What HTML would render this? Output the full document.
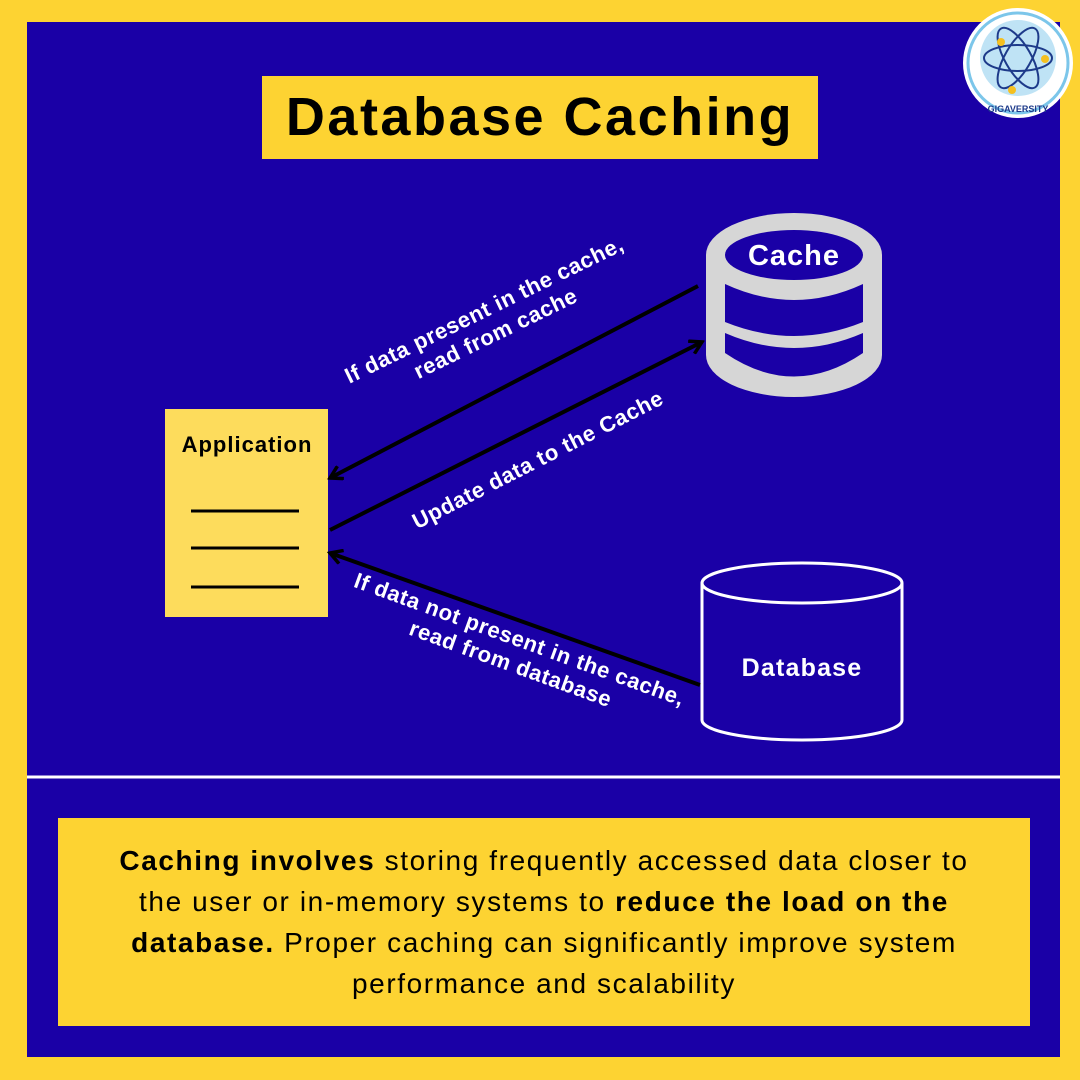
<!DOCTYPE html>
<html><head><style>
body{margin:0;width:1080px;height:1080px;background:#fdd332;position:relative;overflow:hidden;font-family:"Liberation Sans",sans-serif}
.frame{position:absolute;left:27px;top:22px;width:1033px;height:1035px;background:#1a00a6}
.t{position:absolute;color:#fff;font-weight:bold;font-size:22px;letter-spacing:0.6px;text-align:center;white-space:nowrap;line-height:26px}
</style></head><body>
<div class="frame"></div>
<div style="position:absolute;left:262px;top:76px;width:556px;height:83px;background:#fdd332;font-weight:bold;font-size:54px;letter-spacing:2.5px;line-height:83px;text-align:center;color:#000">Database Caching</div>
<svg width="1080" height="1080" style="position:absolute;left:0;top:0">
<defs><marker id="a" markerWidth="16" markerHeight="16" refX="13" refY="8" orient="auto" markerUnits="userSpaceOnUse"><path d="M1,1 L13,8 L1,15" fill="none" stroke="#000" stroke-width="3.5"/></marker></defs>
<!-- logo -->
<circle cx="1018" cy="63" r="55" fill="#fff"/>
<circle cx="1018" cy="63" r="50" fill="none" stroke="#7cc6ea" stroke-width="3"/>
<circle cx="1018" cy="58" r="38" fill="#bfe3f5"/>
<ellipse cx="1018" cy="58" rx="34" ry="13" fill="none" stroke="#1d3a8a" stroke-width="2"/>
<ellipse cx="1018" cy="58" rx="34" ry="13" fill="none" stroke="#1d3a8a" stroke-width="2" transform="rotate(60 1018 58)"/>
<ellipse cx="1018" cy="58" rx="34" ry="13" fill="none" stroke="#1d3a8a" stroke-width="2" transform="rotate(-60 1018 58)"/>
<circle cx="1001" cy="42" r="4" fill="#f5c020"/><circle cx="1045" cy="59" r="4" fill="#f5c020"/><circle cx="1012" cy="90" r="4" fill="#f5c020"/>
<text x="1018" y="112" font-size="9" font-weight="bold" fill="#1d3a8a" text-anchor="middle" font-family="Liberation Sans">GIGAVERSITY</text>
<!-- app box -->
<rect x="165" y="409" width="163" height="208" fill="#fddc5c"/>
<g stroke="#000" stroke-width="3"><line x1="191" y1="511" x2="299" y2="511"/><line x1="191" y1="548" x2="299" y2="548"/><line x1="191" y1="587" x2="299" y2="587"/></g>
<text x="247" y="452" font-size="22" letter-spacing="1" font-weight="bold" text-anchor="middle" fill="#000">Application</text>
<!-- cache -->
<path d="M706,255 A88,42 0 0 1 882,255 L882,355 A88,42 0 0 1 706,355 Z" fill="#d6d6d6"/>
<ellipse cx="794" cy="255" rx="69" ry="25" fill="#1a00a6"/>
<path d="M725,284 Q794,316 863,284 L863,322 Q794,350 725,322 Z" fill="#1a00a6"/>
<path d="M725,333 Q794,363 863,333 L863,353 Q794,400 725,353 Z" fill="#1a00a6"/>
<text x="794" y="265" font-size="29" letter-spacing="1" font-weight="bold" text-anchor="middle" fill="#fff">Cache</text>
<!-- database -->
<path d="M702,583 L702,720 A100,20 0 0 0 902,720 L902,583" fill="none" stroke="#fff" stroke-width="3"/>
<ellipse cx="802" cy="583" rx="100" ry="20" fill="none" stroke="#fff" stroke-width="3"/>
<text x="802" y="676" font-size="25" letter-spacing="1.2" font-weight="bold" text-anchor="middle" fill="#fff">Database</text>
<!-- arrows -->
<g stroke="#000" stroke-width="4" fill="none">
<line x1="698" y1="286" x2="330" y2="478" marker-end="url(#a)"/>
<line x1="330" y1="530" x2="702" y2="342" marker-end="url(#a)"/>
<line x1="700" y1="685" x2="330" y2="553" marker-end="url(#a)"/>
</g>
<line x1="27" y1="777" x2="1060" y2="777" stroke="#fff" stroke-width="3"/>
</svg>
<div class="t" style="left:490px;top:322px;transform:translate(-50%,-50%) rotate(-26deg)">If data present in the cache,<br>read from cache</div>
<div class="t" style="left:538px;top:460px;transform:translate(-50%,-50%) rotate(-27deg)">Update data to the Cache</div>
<div class="t" style="left:515px;top:652px;transform:translate(-50%,-50%) rotate(20deg)">If data not present in the cache,<br>read from database</div>
<div style="position:absolute;left:58px;top:818px;width:972px;height:208px;background:#fdd332;box-sizing:border-box;padding:22px 0 0;text-align:center;font-size:28px;letter-spacing:1.6px;line-height:41px;color:#000;white-space:nowrap">
<b>Caching involves</b> storing frequently accessed data closer to<br>the user or in-memory systems to <b>reduce the load on the</b><br><b>database.</b> Proper caching can significantly improve system<br>performance and scalability</div>
</body></html>
